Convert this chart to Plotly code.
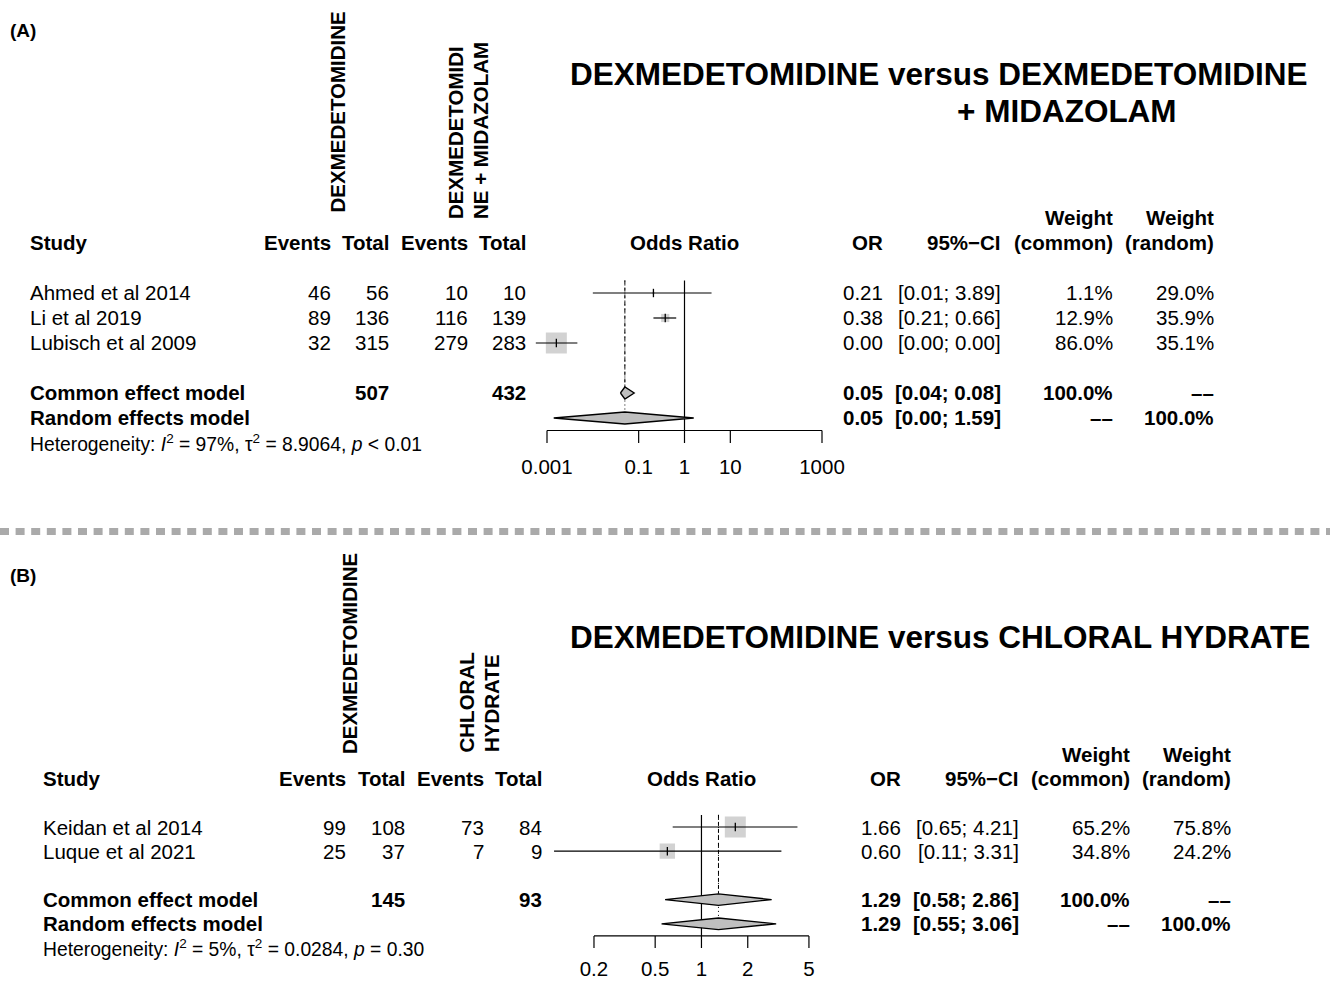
import plotly.graph_objects as go
import numpy as np

W, H = 1330, 982
FONT = "Liberation Sans, Arial, Helvetica, sans-serif"
FS = 20.5
FS_HET = 19.3
FS_TITLE = 31.5
BOX_GRAY = "#bfbfbf"
NA = "––"

# ---------------- Panel A: dexmedetomidine vs dexmedetomidine + midazolam
a_studies = ["Ahmed et al 2014", "Li et al 2019", "Lubisch et al 2009"]
a_ev_exp = [46, 89, 32]
a_n_exp = [56, 136, 315]
a_ev_ctl = [10, 116, 279]
a_n_ctl = [10, 139, 283]
a_or = [0.21, 0.38, 0.0016]
a_lo = [0.01, 0.21, 0.00057]
a_hi = [3.89, 0.66, 0.0046]
a_w_common = [1.1, 12.9, 86.0]
a_w_random = [29.0, 35.9, 35.1]
a_common = [0.05, 0.04, 0.08]
a_random = [0.05, 0.0014, 1.59]
a_tot_exp, a_tot_ctl = 507, 432
a_i2, a_tau2, a_p = "97%", "8.9064", "&lt; 0.01"
a_ticks = [0.001, 0.1, 1, 10, 1000]
a_tick_labels = ["0.001", "0.1", "1", "10", "1000"]

# ---------------- Panel B: dexmedetomidine vs chloral hydrate
b_studies = ["Keidan et al 2014", "Luque et al 2021"]
b_ev_exp = [99, 25]
b_n_exp = [108, 37]
b_ev_ctl = [73, 7]
b_n_ctl = [84, 9]
b_or = [1.66, 0.60]
b_lo = [0.65, 0.11]
b_hi = [4.21, 3.31]
b_w_common = [65.2, 34.8]
b_w_random = [75.8, 24.2]
b_common = [1.29, 0.58, 2.86]
b_random = [1.29, 0.55, 3.06]
b_tot_exp, b_tot_ctl = 145, 93
b_i2, b_tau2, b_p = "5%", "0.0284", "= 0.30"
b_ticks = [0.2, 0.5, 1, 2, 5]
b_tick_labels = ["0.2", "0.5", "1", "2", "5"]


def px(x):
    return x / W


def py(y):
    return 1 - y / H


fig = go.Figure()
annotations = []
shapes = []


def ann(text, x, y, xref="paper", yref="paper", xanchor="left", yanchor="middle",
        size=FS, angle=0):
    annotations.append(dict(
        text=text, x=x, y=y, xref=xref, yref=yref, xanchor=xanchor, yanchor=yanchor,
        showarrow=False, textangle=angle, borderpad=0, borderwidth=0,
        font=dict(family=FONT, size=size, color="black"), align="left"))


def fmt(v):
    return f"{v:.2f}"


def panel(xa, ya, studies, ev_e, n_e, ev_c, n_c, est, lo, hi, w_com, w_ran,
          common, random, tot_e, tot_c, i2, tau2, pval, ticks, tick_labels,
          cols, label_row_off):
    xref = xa
    yref = ya
    n = len(studies)
    rows = list(range(n))
    r_com, r_ran, r_het = n + 1, n + 2, n + 3
    r_axis = n + 2.5
    study_x, ev1, n1, ev2, n2, or_r, ci_r, wc_r, wr_r = cols

    # header
    ann("<b>Study</b>", px(study_x), -2, yref=yref)
    for txt, xr in [("Events", ev1), ("Total", n1), ("Events", ev2), ("Total", n2),
                    ("OR", or_r), ("95%−CI", ci_r), ("(common)", wc_r), ("(random)", wr_r)]:
        ann(f"<b>{txt}</b>", px(xr), -2, yref=yref, xanchor="right")
    for xr in (wc_r, wr_r):
        ann("<b>Weight</b>", px(xr), -3, yref=yref, xanchor="right")
    ann("<b>Odds Ratio</b>", 0, -2, xref=xref, yref=yref, xanchor="center")

    # study rows
    for i in range(n):
        r = rows[i]
        ann(studies[i], px(study_x), r, yref=yref)
        for v, xr in [(ev_e[i], ev1), (n_e[i], n1), (ev_c[i], ev2), (n_c[i], n2)]:
            ann(str(v), px(xr), r, yref=yref, xanchor="right")
        ann(fmt(est[i]), px(or_r), r, yref=yref, xanchor="right")
        ann(f"[{fmt(lo[i])}; {fmt(hi[i])}]", px(ci_r), r, yref=yref, xanchor="right")
        ann(f"{w_com[i]:.1f}%", px(wc_r), r, yref=yref, xanchor="right")
        ann(f"{w_ran[i]:.1f}%", px(wr_r), r, yref=yref, xanchor="right")

    # pooled rows
    ann("<b>Common effect model</b>", px(study_x), r_com, yref=yref)
    ann(f"<b>{tot_e}</b>", px(n1), r_com, yref=yref, xanchor="right")
    ann(f"<b>{tot_c}</b>", px(n2), r_com, yref=yref, xanchor="right")
    ann(f"<b>{fmt(common[0])}</b>", px(or_r), r_com, yref=yref, xanchor="right")
    ann(f"<b>[{fmt(common[1])}; {fmt(common[2])}]</b>", px(ci_r), r_com, yref=yref, xanchor="right")
    ann("<b>100.0%</b>", px(wc_r), r_com, yref=yref, xanchor="right")
    ann(f"<b>{NA}</b>", px(wr_r), r_com, yref=yref, xanchor="right")

    ann("<b>Random effects model</b>", px(study_x), r_ran, yref=yref)
    ann(f"<b>{fmt(random[0])}</b>", px(or_r), r_ran, yref=yref, xanchor="right")
    ann(f"<b>[{fmt(random[1])}; {fmt(random[2])}]</b>", px(ci_r), r_ran, yref=yref, xanchor="right")
    ann(f"<b>{NA}</b>", px(wc_r), r_ran, yref=yref, xanchor="right")
    ann("<b>100.0%</b>", px(wr_r), r_ran, yref=yref, xanchor="right")

    ann(f"Heterogeneity: <i>I</i><sup>2</sup> = {i2}, τ<sup>2</sup> = {tau2}, <i>p</i> {pval}",
        px(study_x), r_het, yref=yref, size=FS_HET)

    xa_key = "x" if xa == "x" else "x2"
    ya_key = "y" if ya == "y" else "y2"

    # reference line at OR = 1
    fig.add_trace(go.Scatter(x=[1, 1], y=[-0.5, r_axis], mode="lines",
                             line=dict(color="black", width=1.2),
                             xaxis=xa_key, yaxis=ya_key, hoverinfo="skip"))
    # pooled estimate lines (common dashed, random dotted)
    dh = 0.24
    fig.add_trace(go.Scatter(x=[common[0], common[0]], y=[-0.5, r_com - dh], mode="lines",
                             line=dict(color="black", width=1, dash="4px,3px"),
                             xaxis=xa_key, yaxis=ya_key, hoverinfo="skip"))
    fig.add_trace(go.Scatter(x=[random[0], random[0]], y=[-0.5, r_ran - dh], mode="lines",
                             line=dict(color="black", width=1, dash="1px,3px"),
                             xaxis=xa_key, yaxis=ya_key, hoverinfo="skip"))

    # squares sized by common-effect weight
    wmax = max(w_com)
    sizes = [21 * np.sqrt(w / wmax) for w in w_com]
    fig.add_trace(go.Scatter(x=est, y=rows, mode="markers",
                             marker=dict(symbol="square", size=sizes, color=BOX_GRAY,
                                         line=dict(width=0)),
                             xaxis=xa_key, yaxis=ya_key, hoverinfo="skip"))
    # confidence intervals
    cx, cy = [], []
    for i in range(n):
        cx += [lo[i], hi[i], None]
        cy += [rows[i], rows[i], None]
    fig.add_trace(go.Scatter(x=cx, y=cy, mode="lines",
                             line=dict(color="black", width=1.2),
                             xaxis=xa_key, yaxis=ya_key, hoverinfo="skip"))
    # point estimate ticks
    fig.add_trace(go.Scatter(x=est, y=rows, mode="markers",
                             marker=dict(symbol="line-ns", size=6,
                                         line=dict(width=1.3, color="black")),
                             xaxis=xa_key, yaxis=ya_key, hoverinfo="skip"))
    # diamonds
    for (m, l, h), r in [(common, r_com), (random, r_ran)]:
        fig.add_trace(go.Scatter(x=[l, m, h, m, l], y=[r, r - dh, r, r + dh, r],
                                 mode="lines", fill="toself", fillcolor=BOX_GRAY,
                                 line=dict(color="black", width=1.3),
                                 xaxis=xa_key, yaxis=ya_key, hoverinfo="skip"))
    # x axis line, ticks and labels
    fig.add_trace(go.Scatter(x=[ticks[0], ticks[-1]], y=[r_axis, r_axis], mode="lines",
                             line=dict(color="black", width=1.2),
                             xaxis=xa_key, yaxis=ya_key, hoverinfo="skip"))
    tx, ty = [], []
    for t in ticks:
        tx += [t, t, None]
        ty += [r_axis, r_axis + 0.5, None]
    fig.add_trace(go.Scatter(x=tx, y=ty, mode="lines",
                             line=dict(color="black", width=1.2),
                             xaxis=xa_key, yaxis=ya_key, hoverinfo="skip"))
    fig.add_trace(go.Scatter(x=ticks, y=[r_axis + label_row_off] * len(ticks), mode="text",
                             text=tick_labels, textposition="middle center",
                             textfont=dict(family=FONT, size=FS, color="black"),
                             cliponaxis=False,
                             xaxis=xa_key, yaxis=ya_key, hoverinfo="skip"))


panel("x", "y", a_studies, a_ev_exp, a_n_exp, a_ev_ctl, a_n_ctl, a_or, a_lo, a_hi,
      a_w_common, a_w_random, a_common, a_random, a_tot_exp, a_tot_ctl,
      a_i2, a_tau2, a_p, a_ticks, a_tick_labels,
      (30, 331, 389, 468, 526, 883, 1001, 1113, 1214), 1.55)
panel("x2", "y2", b_studies, b_ev_exp, b_n_exp, b_ev_ctl, b_n_ctl, b_or, b_lo, b_hi,
      b_w_common, b_w_random, b_common, b_random, b_tot_exp, b_tot_ctl,
      b_i2, b_tau2, b_p, b_ticks, b_tick_labels,
      (43, 346, 405, 484, 542, 901, 1019, 1130, 1231), 1.45)

# panel letters, titles and rotated group labels
ann("<b>(A)</b>", px(10), py(30), size=19)
ann("<b>(B)</b>", px(10), py(575), size=19)
ann("<b>DEXMEDETOMIDINE versus DEXMEDETOMIDINE</b>", px(570), py(74), size=FS_TITLE)
ann("<b>+ MIDAZOLAM</b>", px(957), py(111), size=FS_TITLE)
ann("<b>DEXMEDETOMIDINE versus CHLORAL HYDRATE</b>", px(570), py(637), size=FS_TITLE)

ann("<b>DEXMEDETOMIDINE</b>", px(337), py(213), xanchor="center", yanchor="bottom", angle=-90)
ann("<b>DEXMEDETOMIDI</b>", px(455.5), py(219), xanchor="center", yanchor="bottom", angle=-90)
ann("<b>NE + MIDAZOLAM</b>", px(480.5), py(219), xanchor="center", yanchor="bottom", angle=-90)
ann("<b>DEXMEDETOMIDINE</b>", px(349.5), py(754), xanchor="center", yanchor="bottom", angle=-90)
ann("<b>CHLORAL</b>", px(465.5), py(752), xanchor="center", yanchor="bottom", angle=-90)
ann("<b>HYDRATE</b>", px(491), py(752), xanchor="center", yanchor="bottom", angle=-90)

# dashed separator between the two panels
shapes.append(dict(type="line", xref="paper", yref="paper", x0=0, x1=1,
                   y0=py(531.5), y1=py(531.5),
                   line=dict(color="#aaaaaa", width=7, dash="9px,6.6px")))

# row geometry: panel A rows 25 px apart starting at y=293, panel B 24.2 px from y=827
a_top, a_bot = -4, 8
b_top, b_bot = -4, 6
a_dom = [py(293 + 25 * a_bot), py(293 + 25 * a_top)]
b_dom = [py(827 + 24.2 * b_bot), py(827 + 24.2 * b_top)]

ax_common = dict(visible=False, showgrid=False, zeroline=False)
fig.update_layout(
    width=W, height=H,
    margin=dict(l=0, r=0, t=0, b=0),
    paper_bgcolor="white", plot_bgcolor="rgba(0,0,0,0)",
    showlegend=False,
    xaxis=dict(type="log", domain=[px(520), px(850)], range=[-3.589, 3.611],
               anchor="y", **ax_common),
    yaxis=dict(domain=a_dom, range=[a_bot, a_top], anchor="x", **ax_common),
    xaxis2=dict(type="log", domain=[px(540), px(860)], range=[-1.050, 1.031],
                anchor="y2", **ax_common),
    yaxis2=dict(domain=b_dom, range=[b_bot, b_top], anchor="x2", **ax_common),
    annotations=annotations,
    shapes=shapes,
    font=dict(family=FONT, size=FS, color="black"),
)

fig.write_html("out.html")
